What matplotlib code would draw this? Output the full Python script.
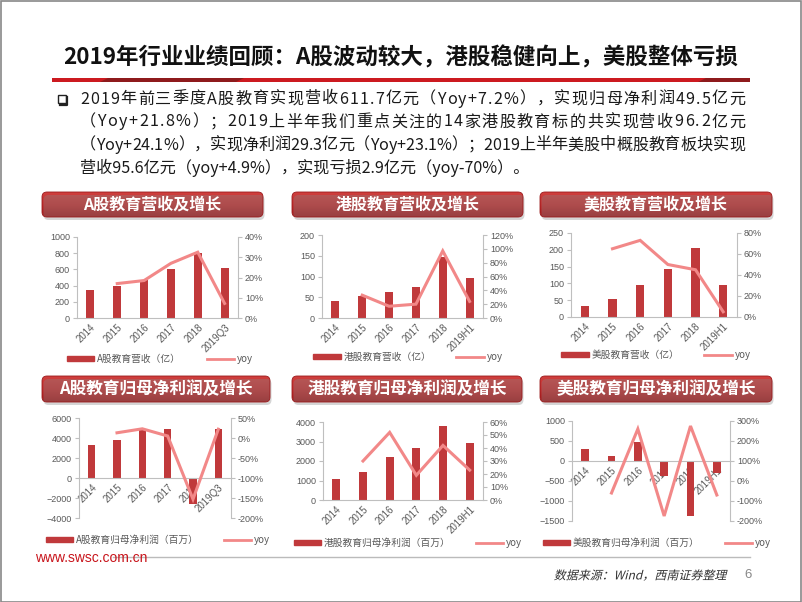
import numpy as np
import matplotlib
matplotlib.use('Agg')
import matplotlib.pyplot as plt
from matplotlib.patches import FancyBboxPatch, Rectangle, Patch, Polygon, PathPatch
from matplotlib.lines import Line2D
from matplotlib.colors import LinearSegmentedColormap
from matplotlib.ticker import MultipleLocator, FuncFormatter
from matplotlib.textpath import TextPath
from matplotlib.font_manager import FontProperties
from matplotlib.transforms import Affine2D

plt.rcParams['font.family'] = ['Liberation Sans', 'Noto Sans CJK SC']
CJK = ['Noto Sans CJK SC', 'DejaVu Sans']

W, H = 802, 602

# ---- data ----
years_a = ['2014', '2015', '2016', '2017', '2018', '2019Q3']
years_h = ['2014', '2015', '2016', '2017', '2018', '2019H1']

a_rev = [340, 400, 470, 600, 800, 612]
a_rev_yoy = [np.nan, 17, 18.5, 27, 32.5, 7.2]

hk_rev = [40, 53, 62, 75, 148, 96]
hk_rev_yoy = [np.nan, 33, 17, 20, 97, 24]

us_rev = [32, 55, 95, 142, 205, 95]
us_rev_yoy = [np.nan, 65, 73, 50, 45, 5]

a_np = [3350, 3800, 4900, 4950, -2600, 4950]
a_np_yoy = [np.nan, 13, 23, 5, -153, 22]

hk_np = [1100, 1450, 2230, 2650, 3780, 2930]
hk_np_yoy = [np.nan, 30, 52, 19, 42, 23]

us_np = [310, 130, 480, -370, -1370, -290]
us_np_yoy = [np.nan, -60, 260, -175, 275, -70]

title = '2019年行业业绩回顾：A股波动较大，港股稳健向上，美股整体亏损'
bullet_lines = [
    '2019年前三季度A股教育实现营收611.7亿元（Yoy+7.2%），实现归母净利润49.5亿元',
    '（Yoy+21.8%）；2019上半年我们重点关注的14家港股教育标的共实现营收96.2亿元',
    '（Yoy+24.1%），实现净利润29.3亿元（Yoy+23.1%）；2019上半年美股中概股教育板块实现',
    '营收95.6亿元（yoy+4.9%），实现亏损2.9亿元（yoy-70%）。',
]
source = '数据来源：Wind，西南证券整理'

BAR = '#C0393B'
LINE = '#F28888'
AXC = '#BFBFBF'
TXT = '#595959'

fig = plt.figure(figsize=(W / 100, H / 100), dpi=100)
renderer = fig.canvas.get_renderer()


def px_axes(l, t, r, b):
    return fig.add_axes([l / W, 1 - b / H, (r - l) / W, (b - t) / H])


def fx(x):
    return x / W


def fy(y):
    return 1 - y / H


def text_w(s, size):
    t = fig.text(0, 0, s, fontsize=size, family=CJK)
    w = t.get_window_extent(renderer).width
    t.remove()
    return w


def header(l, t, r, b, text, size):
    w, h = r - l, b - t
    hax = px_axes(l - 4, t - 4, r + 5, b + 6)
    hax.set_xlim(0, w + 9)
    hax.set_ylim(0, h + 10)
    hax.set_axis_off()
    sh = FancyBboxPatch((5.5, 3), w, h, boxstyle='round,pad=0,rounding_size=5',
                        fc='#888888', ec='none', alpha=0.35)
    hax.add_patch(sh)
    box = FancyBboxPatch((4, 6), w, h, boxstyle='round,pad=0,rounding_size=5',
                         fc='none', ec='#9A1A1C', lw=0.6)
    hax.add_patch(box)
    cmap = LinearSegmentedColormap.from_list('hd', ['#A3191B', '#C42D2E', '#D0403E'])
    grad = np.linspace(0, 1, 64).reshape(-1, 1)
    im = hax.imshow(grad, extent=[4, 4 + w, 6, 6 + h], origin='lower', aspect='auto', cmap=cmap)
    im.set_clip_path(box)
    hax.text(4 + w / 2, 6 + h / 2, text, ha='center', va='center', color='white',
             fontsize=size, fontweight='bold', family=CJK)


def chart(axbox, cats, bars, yoy, lylim, lstep, rylim, rstep, label, leg):
    ax = px_axes(*axbox)
    x = np.arange(len(cats))
    ax.bar(x, bars, width=0.3, color=BAR, zorder=2)
    ax.set_xlim(-0.5, len(cats) - 0.5)
    ax.set_ylim(*lylim)
    for s in ['top', 'right']:
        ax.spines[s].set_visible(False)
    ax.spines['left'].set_color(AXC)
    ax.spines['bottom'].set_color(AXC)
    ax.spines['bottom'].set_position(('data', 0))
    ax.yaxis.set_major_locator(MultipleLocator(lstep))
    ax.set_xticks(x)
    ax.set_xticklabels(cats)
    ax.tick_params(axis='y', length=3, color=AXC, labelsize=6.5, labelcolor=TXT, pad=2)
    ax.tick_params(axis='x', length=0, labelsize=7, labelcolor=TXT, pad=3)
    for lab in ax.get_xticklabels():
        lab.set_rotation(45)
        lab.set_ha('right')
        lab.set_rotation_mode('anchor')
    ax.patch.set_alpha(0)

    ax2 = ax.twinx()
    ax2.plot(x, yoy, color=LINE, lw=2.2, solid_joinstyle='miter', zorder=3)
    ax2.set_ylim(*rylim)
    ax2.yaxis.set_major_locator(MultipleLocator(rstep))
    ax2.yaxis.set_major_formatter(FuncFormatter(lambda v, p: '%d%%' % round(v)))
    for s in ['top', 'left', 'bottom']:
        ax2.spines[s].set_visible(False)
    ax2.spines['right'].set_color(AXC)
    ax2.tick_params(axis='y', length=3, color=AXC, labelsize=6.5, labelcolor=TXT, pad=2)

    handles = [Patch(color=BAR), Line2D([], [], color=LINE, lw=2)]
    lg = fig.legend(handles, [label, 'yoy'], loc='center', bbox_to_anchor=(fx(leg[0]), fy(leg[1])),
                    ncol=2, frameon=False, fontsize=7, handlelength=2.8, handleheight=0.5,
                    columnspacing=2.6, handletextpad=0.3)
    for t in lg.get_texts():
        t.set_color(TXT)
        t.set_family(CJK)


# ---- header area ----
fig.text(fx(401), fy(58), title, ha='center', va='center', fontsize=16.2,
         fontweight='bold', family=CJK, color='#111111')
fig.patches.append(Rectangle((fx(52), fy(82)), fx(698), 4 / H, transform=fig.transFigure,
                             fc='#CC1A20', ec='none'))
fig.patches.append(Polygon([(fx(100), fy(82)), (fx(236), fy(82)), (fx(244), fy(78)), (fx(108), fy(78))],
                           closed=True, transform=fig.transFigure, fc='#8E1A1C', ec='none'))
fig.patches.append(Polygon([(fx(698), fy(82)), (fx(750), fy(82)), (fx(750), fy(78)), (fx(706), fy(78))],
                           closed=True, transform=fig.transFigure, fc='#8E1A1C', ec='none'))

# bullet box
fig.patches.append(Rectangle((fx(58), fy(103)), 8 / W, 8 / H, transform=fig.transFigure,
                             fc='white', ec='#222222', lw=1.0))
fig.lines.append(Line2D([fx(60), fx(67), fx(67)], [fy(104.5), fy(104.5), fy(97)],
                        transform=fig.transFigure, color='#222222', lw=1.6))

# justified bullet paragraph
x0, x1 = 80, 745
bsize = 12.5
nat = max(text_w(s, bsize) for s in bullet_lines[:3])
if nat > x1 - x0:
    bsize = bsize * (x1 - x0) / nat
for i, s in enumerate(bullet_lines):
    yy = fy(99 + 23 * i)
    if i == len(bullet_lines) - 1:
        fig.text(fx(x0), yy, s, ha='left', va='center', fontsize=bsize, family=CJK, color='#1A1A1A')
        continue
    pre = [0.0] + [text_w(s[:k], bsize) for k in range(1, len(s))]
    total = text_w(s, bsize)
    extra = (x1 - x0 - total) / (len(s) - 1)
    for k, ch in enumerate(s):
        fig.text(fx(x0 + pre[k] + k * extra), yy, ch, ha='left', va='center', fontsize=bsize,
                 family=CJK, color='#1A1A1A')

# ---- charts ----
header(42, 192, 263, 217, 'A股教育营收及增长', 11.5)
header(292, 192, 523, 217, '港股教育营收及增长', 11.5)
header(540, 192, 772, 217, '美股教育营收及增长', 11.5)
header(42, 376, 270, 402, 'A股教育归母净利润及增长', 12)
header(292, 376, 522, 402, '港股教育归母净利润及增长', 12)
header(540, 376, 772, 402, '美股教育归母净利润及增长', 12)

chart((77, 237, 238, 318), years_a, a_rev, a_rev_yoy, (0, 1000), 200, (0, 40), 10,
      'A股教育营收（亿）', (160, 359))
chart((322, 235, 483, 318), years_h, hk_rev, hk_rev_yoy, (0, 200), 50, (0, 120), 20,
      '港股教育营收（亿）', (408, 357))
chart((571, 233, 737, 317), years_h, us_rev, us_rev_yoy, (0, 250), 50, (0, 80), 20,
      '美股教育营收（亿）', (656, 355))
chart((79, 418, 231, 518), years_a, a_np, a_np_yoy, (-4000, 6000), 2000, (-200, 50), 50,
      'A股教育归母净利润（百万）', (158, 540))
chart((323, 422, 483, 500), years_h, hk_np, hk_np_yoy, (0, 4000), 1000, (0, 60), 10,
      '港股教育归母净利润（百万）', (408, 543))
chart((572, 421, 730, 521), years_h, us_np, us_np_yoy, (-1500, 1000), 500, (-200, 300), 100,
      '美股教育归母净利润（百万）', (657, 543))

# ---- footer ----
fig.text(fx(35), fy(558), 'www.swsc.com.cn', ha='left', va='center', fontsize=10,
         color='#C8141B')
fig.lines.append(Line2D([fx(113), fx(750)], [fy(557), fy(557)], transform=fig.transFigure,
                        color='#BBBBBB', lw=1))
# slanted source note
fp = FontProperties(family='Noto Sans CJK SC')
tp = TextPath((0, 0), source, size=12, prop=fp)
ext = tp.get_extents()
tr = Affine2D().translate(-ext.x1, -(ext.y0 + ext.y1) / 2).skew_deg(14, 0).translate(727, H - 575)
fig.patches.append(PathPatch(tp, transform=tr, fc='#333333', ec='none'))
fig.text(fx(748), fy(575), '6', ha='center', va='center', fontsize=9.5, color='#888888')

fig.patches.append(Rectangle((0.5 / W, 0.5 / H), 1 - 1.5 / W, 1 - 1.5 / H, transform=fig.transFigure,
                             fc='none', ec='#888888', lw=1.2))

fig.savefig('out.png', dpi=100)
